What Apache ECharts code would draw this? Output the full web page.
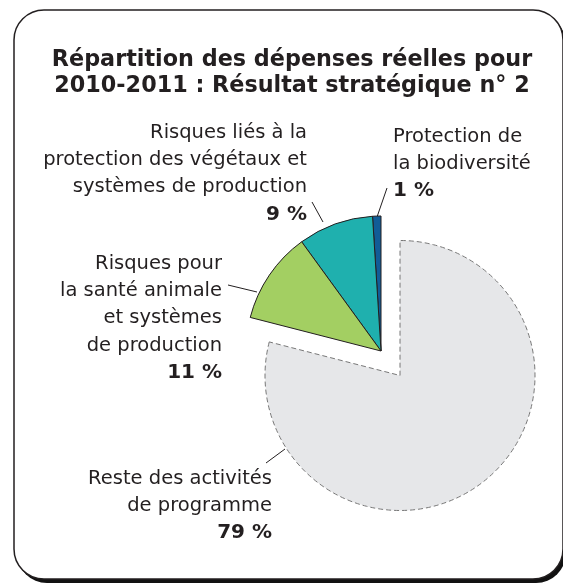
<!DOCTYPE html>
<html>
<head>
<meta charset="utf-8">
<script src="https://cdn.jsdelivr.net/npm/echarts@6/dist/echarts.min.js"></script>
<style>
html,body{margin:0;padding:0;background:#fff;}
#chart{width:563px;height:585px;}
</style>
</head>
<body>
<div id="chart"></div>
<script>
// categories and values
const categories=[
    "Protection de\nla biodiversité",
    "Risques liés à la\nprotection des végétaux et\nsystèmes de production",
    "Risques pour\nla santé animale\net systèmes\nde production",
    "Reste des activités\nde programme"
];
const values=[1,9,11,79];
const colors=["#115c97","#1fb0ae","#a3cf62","#e6e7e9"];

// the slice that is pulled out of the pie
const explodedIndex=3;

// where each label sits (x, y top, align) and its leader line
const labelPlaces=[
    {x:393,y:123,align:"left",line:[[387,188],[377,217]]},
    {x:307,y:119,align:"right",line:[[312,202],[323,222]]},
    {x:222,y:250,align:"right",line:[[228,285],[257,292]]},
    {x:272,y:465,align:"right",line:[[266,463],[285,449]]}
];

const chart=echarts.init(document.getElementById("chart"),null,{renderer:"canvas"});

const font="DejaVu Sans";
const center=[381,351];
const radius=135;
const explodeDist=31;

// mid angle of the exploded slice (counter-clockwise from 12 o'clock)
const total=values.reduce((a,b)=>a+b,0);
const before=values.slice(0,explodedIndex).reduce((a,b)=>a+b,0);
const midAngle=(90+360*(before+values[explodedIndex]/2)/total)*Math.PI/180;
const explodedCenter=[
    center[0]+explodeDist*Math.cos(midAngle),
    center[1]-explodeDist*Math.sin(midAngle)
];

const hidden={color:"transparent",borderWidth:0};

chart.setOption({
    animation:false,
    title:{
        text:"Répartition des dépenses réelles pour\n2010-2011 : Résultat stratégique n° 2",
        left:287,
        top:42,
        textAlign:"center",
        textStyle:{
            fontFamily:font,
            fontWeight:"bold",
            fontSize:22.3,
            lineHeight:26,
            color:"#231f20"
        }
    },
    graphic:[
        {
            type:"rect",
            z:0,
            shape:{x:17,y:14,width:549,height:569,r:30},
            style:{fill:"#111"}
        },
        {
            type:"rect",
            z:1,
            shape:{x:14,y:10,width:549,height:569,r:30},
            style:{fill:"#fff",stroke:"#231f20",lineWidth:1.5}
        }
    ],
    series:[
        {
            type:"pie",
            center:center,
            radius:[0,radius],
            startAngle:90,
            clockwise:false,
            emphasis:{disabled:true},
            silent:true,
            z:5,
            itemStyle:{borderColor:"#231f20",borderWidth:1},
            label:{
                show:true,
                position:"outside",
                overflow:"none",
                alignTo:"none",
                formatter:p=>"{n|"+p.name+"}\n{p|"+p.value+" %}",
                rich:{
                    n:{fontFamily:font,fontSize:19.5,lineHeight:27.3,color:"#231f20"},
                    p:{fontFamily:font,fontSize:20,fontWeight:"bold",lineHeight:27.3,color:"#231f20"}
                }
            },
            labelLine:{show:true,lineStyle:{color:"#231f20",width:1}},
            labelLayout(params){
                const place=labelPlaces[params.dataIndex];
                return {
                    x:place.x,
                    y:place.y,
                    align:place.align,
                    verticalAlign:"top",
                    labelLinePoints:place.line
                };
            },
            data:categories.map((name,i)=>({
                name:name,
                value:values[i],
                itemStyle:i===explodedIndex?hidden:{color:colors[i]}
            }))
        },
        {
            type:"pie",
            center:explodedCenter,
            radius:[0,radius],
            startAngle:90,
            clockwise:false,
            emphasis:{disabled:true},
            silent:true,
            z:4,
            label:{show:false},
            labelLine:{show:false},
            data:categories.map((name,i)=>({
                name:name,
                value:values[i],
                itemStyle:i===explodedIndex
                    ?{color:colors[i],borderColor:"#777",borderWidth:1,borderType:[5,3]}
                    :hidden
            }))
        }
    ]
});
</script>
</body>
</html>
